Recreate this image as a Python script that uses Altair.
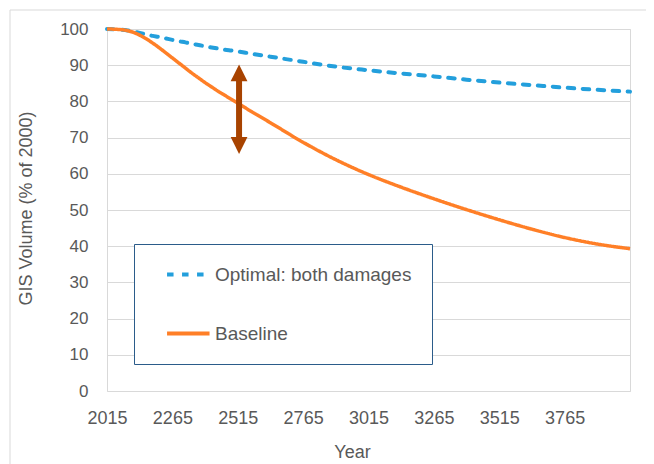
import altair as alt
import pandas as pd

# ---- data ----
years = [2015, 2040, 2065, 2090, 2115, 2140, 2165, 2190, 2215, 2240,
         2265, 2290, 2315, 2340, 2365, 2390, 2415, 2440, 2465, 2490,
         2515, 2565, 2640, 2765, 2890, 3015, 3140, 3265, 3390, 3515,
         3640, 3765, 3890, 4015]
baseline = [100.0, 99.95, 99.85, 99.6, 99.1, 98.3, 97.3, 96.1, 94.8, 93.4,
            92.0, 90.6, 89.2, 87.8, 86.5, 85.2, 84.0, 82.8, 81.7, 80.6,
            79.5, 77.3, 74.1, 68.7, 63.9, 59.8, 56.3, 53.1, 50.1, 47.3,
            44.7, 42.4, 40.6, 39.3]
optimal = [100.0, 99.95, 99.85, 99.65, 99.3, 98.9, 98.5, 98.1, 97.8, 97.4,
           97.0, 96.6, 96.3, 95.9, 95.6, 95.2, 94.9, 94.6, 94.3, 94.05,
           93.8, 93.2, 92.35, 90.95, 89.6, 88.6, 87.7, 86.9, 86.0, 85.2,
           84.5, 83.8, 83.2, 82.7]
series_names = ["Optimal: both damages", "Baseline"]
x_tick_values = [2015, 2265, 2515, 2765, 3015, 3265, 3515, 3765]
y_tick_values = [0, 10, 20, 30, 40, 50, 60, 70, 80, 90, 100]
x_domain = [2015, 4015]

# annotation arrow (double headed)
arrow_year = [2520]
arrow_top = [90.2]
arrow_bottom = [65.5]

# ---- styles ----
FONT = "Liberation Sans"
GRAY = "#595959"
GRID = "#D9D9D9"
BLUE = "#239FDC"
ORANGE = "#FF7F27"
ARROW = "#A84300"
Y_TITLE = "GIS Volume (% of 2000)"

df = pd.DataFrame({
    "Year": years + years,
    "Volume": optimal + baseline,
    "Series": [series_names[0]] * len(years) + [series_names[1]] * len(years),
})
arrow_df = pd.DataFrame({"Year": arrow_year, "top": arrow_top, "bottom": arrow_bottom})

legend = alt.Legend(
    title=None, orient="none", legendX=27, legendY=215,
    padding=20, strokeColor="#2B5C8A", fillColor="white", cornerRadius=0,
    symbolType="M0.3,0L5.3,0", symbolSize=289, symbolStrokeWidth=4,
    labelFont=FONT, labelFontSize=19, labelColor=GRAY, labelOffset=40,
    labelLimit=400, rowPadding=38,
)
color = alt.Color("Series:N", scale=alt.Scale(domain=series_names, range=[BLUE, ORANGE]), legend=legend)
dash = alt.StrokeDash("Series:N", scale=alt.Scale(domain=series_names, range=[[6.5, 8.5], [1, 0]]), legend=legend)

x_scale = alt.Scale(domain=x_domain, nice=False, zero=False)
y_scale = alt.Scale(domain=[0, 100], nice=False)
x_axis = alt.Axis(values=x_tick_values, format="d", grid=False, ticks=False, domain=False,
                  labelFontSize=18, labelColor=GRAY, labelPadding=18, labelFlush=False,
                  labelOverlap=False,
                  titleFontSize=18, titleColor=GRAY, titleFontWeight="normal",
                  titleX=245, titleY=61, titleAlign="center", titleBaseline="middle")
y_axis = alt.Axis(values=y_tick_values, grid=True, gridColor=GRID, gridWidth=1,
                  ticks=False, domain=False, labelOverlap=False,
                  labelFontSize=17, labelColor=GRAY, labelPadding=19,
                  titleFontSize=18, titleColor=GRAY, titleFontWeight="normal",
                  titleX=-81, titleY=179, titleAngle=270, titleAlign="center",
                  titleBaseline="middle")


def xe(field):
    return alt.X(field, title="Year", scale=x_scale, axis=x_axis)


def ye(field):
    return alt.Y(field, title=Y_TITLE, scale=y_scale, axis=y_axis)


frame = alt.Chart(pd.DataFrame({"f": [0]})).mark_rect(
    fill="transparent", stroke=GRID, strokeWidth=1
).encode(x=alt.value(-97), x2=alt.value(700), y=alt.value(-19), y2=alt.value(600))

base = alt.Chart(df)
blue_line = base.transform_filter(alt.datum.Series == series_names[0]).mark_line(
    strokeWidth=4, strokeCap="round", interpolate="monotone"
).encode(x=xe("Year:Q"), y=ye("Volume:Q"), color=color, strokeDash=dash)
orange_line = base.transform_filter(alt.datum.Series == series_names[1]).mark_line(
    strokeWidth=3.5, interpolate="monotone"
).encode(x=xe("Year:Q"), y=ye("Volume:Q"), color=color, strokeDash=dash)

arrow_base = alt.Chart(arrow_df)
shaft = arrow_base.mark_rule(color=ARROW, strokeWidth=6, yOffset=15, y2Offset=-15).encode(
    x=xe("Year:Q"), y=ye("top:Q"), y2="bottom:Q")
head_up = arrow_base.mark_point(shape="M0,0L-1,2L1,2Z", size=282, filled=True,
                                fill=ARROW, opacity=1, strokeWidth=0).encode(
    x=xe("Year:Q"), y=ye("top:Q"))
head_down = arrow_base.mark_point(shape="M0,0L-1,-2L1,-2Z", size=282, filled=True,
                                  fill=ARROW, opacity=1, strokeWidth=0).encode(
    x=xe("Year:Q"), y=ye("bottom:Q"))

chart = alt.layer(frame, blue_line, orange_line, shaft, head_up, head_down).properties(
    width=523, height=362,
    padding={"left": 99, "top": 21, "right": 16, "bottom": 73},
    autosize=alt.AutoSizeParams(type="none"),
).configure(font=FONT).configure_view(stroke=GRID, strokeWidth=1).configure_axis(
    labelFont=FONT, titleFont=FONT)

chart.save("out.html", embed_options={"renderer": "svg", "actions": False})
